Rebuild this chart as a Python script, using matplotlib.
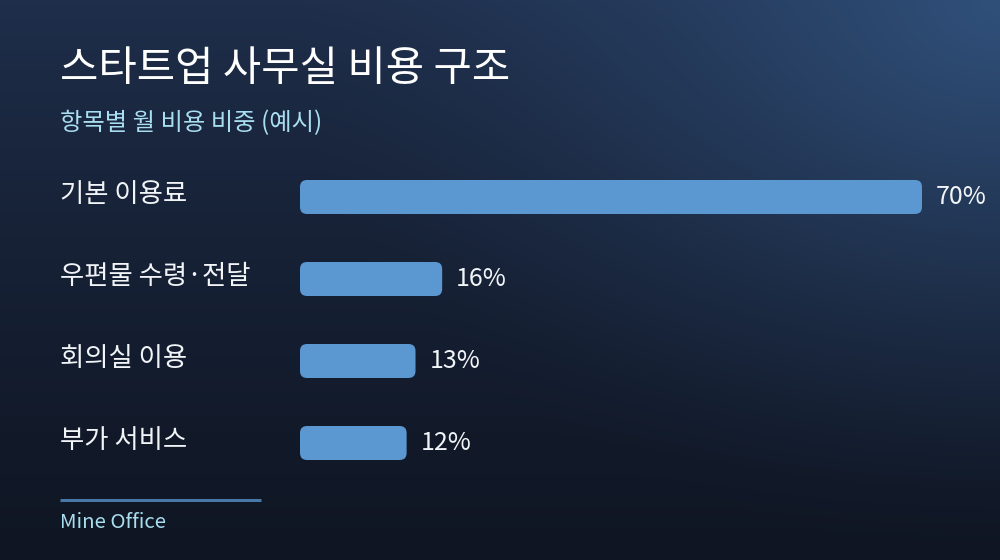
import numpy as np
import matplotlib
matplotlib.use("Agg")
import matplotlib.pyplot as plt
from matplotlib.patches import FancyBboxPatch
from matplotlib.colors import to_rgb
import matplotlib.transforms as mtransforms

plt.rcParams["font.family"] = ["Noto Sans CJK KR", "DejaVu Sans"]

# ---- 데이터 ----
categories = ["기본 이용료", "우편물 수령·전달", "회의실 이용", "부가 서비스"]
shares = [70, 16, 13, 12]
title = "스타트업 사무실 비용 구조"
subtitle = "항목별 월 비용 비중 (예시)"
footer = "Mine Office"

BAR, TXT, SUB, LINE = "#5b97d0", "#f2f5f8", "#a9def0", "#4a78a6"
W, H = 1000, 560

fig = plt.figure(figsize=(W / 100, H / 100), dpi=100)

# 배경 그라디언트 (위→아래 어두워짐 + 우상단 빛)
bg = fig.add_axes([0, 0, 1, 1], zorder=0)
yy, xx = np.mgrid[0:H, 0:W]
top, bot, glow = map(np.array, (to_rgb("#1f2f4c"), to_rgb("#0f1522"), to_rgb("#30507a")))
t = (yy / H)[..., None] ** 0.8
img = top * (1 - t) + bot * t
d = np.sqrt((xx - W) ** 2 + (yy * 1.3) ** 2) / 720
g = np.clip(1 - d, 0, 1)[..., None] ** 1.5
img = img * (1 - g) + glow * g
bg.imshow(img, aspect="auto", extent=[0, W, H, 0])
bg.axis("off")

# 막대
ax = fig.add_axes([0.30, 76 / H, 0.70, 328 / H], zorder=1)
ax.patch.set_alpha(0)
xmax = 700 / (622 / 70)
ax.set_xlim(0, xmax)
ax.set_ylim(len(categories) - 0.5, -0.5)
ax.axis("off")

px_x = 700 / xmax           # x 1단위당 픽셀
px_y = 328 / len(categories)  # y 1단위당 픽셀
bh = 34 / px_y
r = 7 / px_x
for i, v in enumerate(shares):
    ax.add_patch(FancyBboxPatch((0, i - bh / 2), v, bh,
                                boxstyle=f"round,pad=0,rounding_size={r}",
                                mutation_aspect=px_x / px_y,
                                fc=BAR, ec="none"))
    ax.text(v + 14 / px_x, i, f"{v}%", color=TXT, fontsize=18,
            va="center", ha="left")

tr = mtransforms.blended_transform_factory(fig.transFigure, ax.transData)
for i, c in enumerate(categories):
    ax.text(60 / W, i - 0.03, c, transform=tr, color=TXT, fontsize=19,
            va="center", ha="left")

# 제목
fig.text(60 / W, 1 - 70 / H, title, color="white", fontsize=30,
         fontweight="medium", va="center", ha="left")
fig.text(60 / W, 1 - 123 / H, subtitle, color=SUB, fontsize=17.5,
         va="center", ha="left")

# 하단
fig.add_artist(plt.Line2D([60 / W, 261 / W], [1 - 500 / H] * 2, color=LINE,
                          lw=2.2, solid_capstyle="butt"))
fig.text(60 / W, 1 - 522 / H, footer, color=SUB, fontsize=14.7,
         va="center", ha="left")

fig.savefig("out.png", dpi=100)
